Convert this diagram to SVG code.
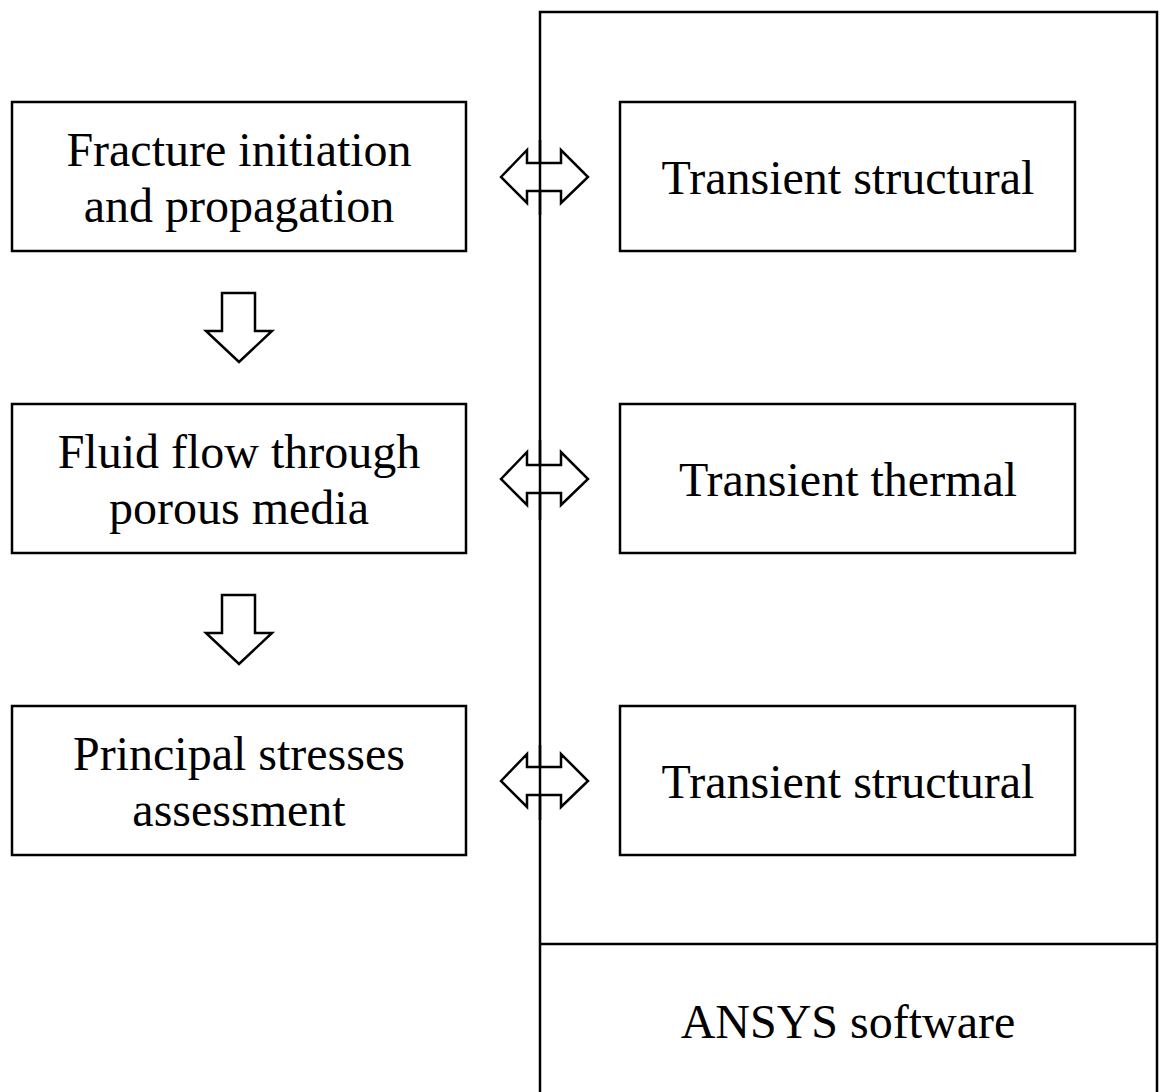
<svg xmlns="http://www.w3.org/2000/svg" width="1162" height="1092" viewBox="0 0 1162 1092">
<style>
.box{fill:#fff;stroke:#000;stroke-width:2.5}
.t{font-family:"Liberation Serif","Times New Roman",serif;font-size:48px;fill:#000;text-anchor:middle}
.arr{fill:#fff;stroke:#000;stroke-width:2.5;stroke-linejoin:miter}
.ln{fill:none;stroke:#000;stroke-width:2.5}
</style>
<rect width="1162" height="1092" fill="#fff"/>
<g id="ansys">
<path class="ln" d="M540,1092 V12 H1157 V1092"/>
<line class="ln" x1="540" y1="944" x2="1157" y2="944"/>
<text class="t" x="848" y="1038">ANSYS software</text>
</g>
<g id="n1"><rect class="box" x="12" y="102" width="454" height="149"/><text class="t" x="239" y="166">Fracture initiation</text><text class="t" x="239" y="222">and propagation</text></g>
<g id="n2"><rect class="box" x="12" y="404" width="454" height="149"/><text class="t" x="239" y="468">Fluid flow through</text><text class="t" x="239" y="524">porous media</text></g>
<g id="n3"><rect class="box" x="12" y="706" width="454" height="149"/><text class="t" x="239" y="770">Principal stresses</text><text class="t" x="239" y="826">assessment</text></g>
<g id="r1"><rect class="box" x="620" y="102" width="455" height="149"/><text class="t" x="848" y="194">Transient structural</text></g>
<g id="r2"><rect class="box" x="620" y="404" width="455" height="149"/><text class="t" x="848" y="496">Transient thermal</text></g>
<g id="r3"><rect class="box" x="620" y="706" width="455" height="149"/><text class="t" x="848" y="798">Transient structural</text></g>
<g id="connectors">
<path class="arr" d="M222,293 H255 V331 H272 L239,362 L206,331 H222 Z"/>
<path class="arr" d="M222,595 H255 V633 H272 L239,664 L206,633 H222 Z"/>
<path class="arr" d="M501,177 L527,150 V163 H561 V150 L588,177 L561,203 V191 H527 V203 Z"/>
<path class="arr" d="M501,479 L527,452 V465 H561 V452 L588,479 L561,505 V493 H527 V505 Z"/>
<path class="arr" d="M501,781 L527,754 V767 H561 V754 L588,781 L561,807 V795 H527 V807 Z"/>
<line class="ln" x1="540" y1="140" x2="540" y2="215"/>
<line class="ln" x1="540" y1="440" x2="540" y2="520"/>
<line class="ln" x1="540" y1="745" x2="540" y2="820"/>
</g>
</svg>
